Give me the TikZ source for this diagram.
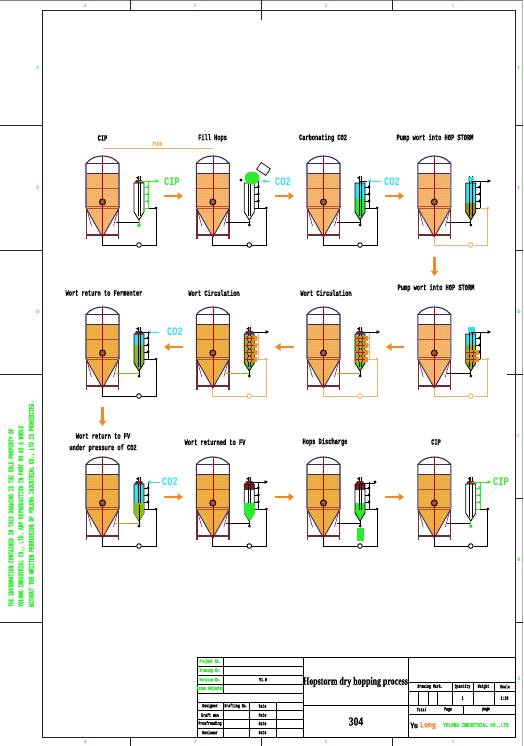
\documentclass[tikz,border=0pt]{standalone}
\usepackage{fontspec}
\setmainfont{Liberation Serif}
\setmonofont{Liberation Mono}
\setsansfont{Liberation Sans}
\newfontfamily\hvmono[BoldFeatures={FakeBold=1.2}]{Liberation Mono}
\newfontfamily\hvserif[BoldFeatures={FakeBold=.8}]{Liberation Serif}
\newfontfamily\hvsans[BoldFeatures={FakeBold=1.2}]{Liberation Sans}
\usetikzlibrary{arrows.meta,patterns,shapes.geometric}
\definecolor{hopgreen}{HTML}{2BEB2B}
\definecolor{cocyan}{HTML}{33E0F0}
\definecolor{flowor}{HTML}{F08A24}
\definecolor{pipeor}{HTML}{EFB070}
\definecolor{wortA}{HTML}{F5B670}
\definecolor{wortB}{HTML}{EDAE44}
\definecolor{wortC}{HTML}{F3B25E}
\definecolor{dotcol}{HTML}{E59A3C}
\definecolor{olive}{HTML}{8DB81E}
\definecolor{brownol}{HTML}{A08C14}
\definecolor{wall}{HTML}{3A2A50}
\definecolor{leg}{HTML}{6E2A36}
\definecolor{band}{HTML}{B0503A}
\definecolor{capred}{HTML}{7A1E2A}
\definecolor{frameg}{HTML}{222222}
\newcommand{\labtxt}[1]{\scalebox{.65}[1]{\fontsize{8.2}{9}\selectfont\hvmono\bfseries #1}}
\newcommand{\smalltxt}[1]{\scalebox{.62}[1]{\fontsize{5.2}{5.5}\selectfont\hvmono\bfseries #1}}
\newcommand{\gastxt}[1]{\scalebox{.75}[1]{\fontsize{11.5}{12}\selectfont\ttfamily\bfseries #1}}
\newcommand{\sidetxt}[1]{\scalebox{.61}[1]{\fontsize{7.5}{8}\selectfont\hvmono\bfseries #1}}
\tikzset{
  x=1pt,y=-1pt,
  lab/.style={inner sep=0pt,text=black},
  gas/.style={inner sep=0pt},
  flowarrow/.style={draw=flowor,line width=2.6pt,-{Triangle[width=7.5pt,length=5.5pt]}},
  pipe/.style={line width=.9pt,draw=#1},
  pipe/.default=black,
  tinygreen/.style={inner sep=0pt,text=hopgreen},
  cell/.style={inner sep=0pt,text=black},
  grid/.style={line width=.7pt,draw=black},
  pumpnode/.style={circle,draw=#1,line width=.9pt,fill=white,minimum size=4.6pt,inner sep=0pt},
  gasarrow/.style={line width=.9pt,draw=#1,-{Triangle[width=3.5pt,length=3.5pt]}},
  marknum/.style={inner sep=0pt,text=hopgreen,font=\fontsize{5}{5}\selectfont\bfseries},
}
% id, cx, oy, wort colour, bottom pipe colour, cone pipe colour
\newcommand{\tankunit}[6]{%
\begin{scope}[shift={(#2,#3)}]
  \begin{scope}
    \clip (-16,17.5) -- (16,17.5) -- (16,52) -- (0,81) -- (-16,52) -- cycle;
    \fill[#4] (-17,17) rectangle (17,82);
    \fill[pattern=dots,pattern color=dotcol] (-17,17) rectangle (17,82);
    \draw[band,line width=.6pt] (-17,32) -- (17,32) (-17,50) -- (17,50);
  \end{scope}
  \draw[wall,line width=.9pt] (-16,17.5) -- (16,17.5);
  \draw[leg,line width=1.6pt] (-16,52) -- (-16,83) (16,52) -- (16,83);
  \draw[leg,line width=1.1pt] (-16,79) -- (16,79);
  \draw[leg,line width=.6pt] (-16,52) -- (-11,70) (16,52) -- (11,70);
  \draw[wall,line width=1.1pt] (-16.5,52) -- (-16.5,7.5) .. controls (-12,2) and (-6,0) .. (0,0) .. controls (6,0) and (12,2) .. (16.5,7.5) -- (16.5,52);
  \draw[wall,line width=.6pt] (-16.5,7.5) -- (16.5,7.5);
  \draw[wall,line width=.9pt] (-16.5,52) -- (0,81) -- (16.5,52);
  \draw[band,line width=.6pt] (-16.5,52) -- (16.5,52);
  \draw[red!70!black,line width=.5pt] (0,0) -- (0,81);
  \node[circle,draw=black,line width=.9pt,fill=band,minimum size=6pt,inner sep=0pt] (#1manhole) at (0,46) {};
  \coordinate (#1tip) at (0,81);
  \coordinate (#1low) at (0,89);
  \coordinate (#1lowr) at (53.5,89);
  \coordinate (#1sideb) at (53.5,52);
  \coordinate (#1side) at (46,52);
  \coordinate (#1cone) at (13,66);
  \coordinate (#1out) at (36.5,66);
  \node[pumpnode=#5] (#1pump) at (36.5,89) {};
  \draw[pipe=#6] (#1cone) -- (#1out);
  \draw[pipe=#5] (#1tip) -- (#1low) -- (#1pump) -- (#1lowr) -- (#1sideb) -- (#1side);
  \fill[#5] (#1sideb) circle (1.5pt);
\end{scope}}
% cx, oy, stub colour, fill code
\newcommand{\stormer}[4]{%
\begin{scope}[shift={(#1+36.5,#2)}]
  \begin{scope}
    \clip (-5,27) -- (5,27) -- (5,56) -- (0,64) -- (-5,56) -- cycle;
    \fill[white] (-6,26) rectangle (6,65);
    #4
  \end{scope}
  \draw[black,line width=.8pt] (-5,27) -- (5,27) -- (5,56) -- (0,64) -- (-5,56) -- cycle;
  \draw[black,line width=.35pt] (-1.3,20) -- (-1.3,60) (1.3,20) -- (1.3,60);
  \draw[#3,line width=.8pt] (5,31) -- (9.5,31) (5,38) -- (9.5,38) (5,45) -- (9.5,45) (5,52) -- (9.5,52) (9.5,25) -- (9.5,52);
  \foreach \yy in {31,38,45}{\fill[#3] (9,\yy) circle (1.6pt);}
  \draw[black,line width=.9pt] (0,64) -- (0,69);
  \fill[black] (0,69) circle (1.5pt);
\end{scope}}
\newcommand{\capdark}[2]{% cx, oy
\begin{scope}[shift={(#1+36.5,#2)}]
  \fill[capred] (-4.5,27) -- (-3,24) -- (3,24) -- (4.5,27) -- cycle;
  \fill[black] (-3,21.5) -- (0,20) -- (0,24) -- cycle;
\end{scope}}
\newcommand{\coilset}[3]{% cx, oy, list of levels
\begin{scope}[shift={(#1+36.5,#2)}]
  \foreach \yy in {#3}{
    \fill[flowor] (-4.5,\yy-2.5) rectangle (8,\yy+2.5);
    \draw[band!70!black,line width=.6pt] (-4.5,\yy) -- (5,\yy) (-2,\yy-2.5) -- (-2,\yy+2.5) (2,\yy-2.5) -- (2,\yy+2.5);
  }
\end{scope}}
\newcommand{\flow}[5]{\coordinate (#1a) at (#2,#3); \coordinate (#1b) at (#4,#5); \draw[flowarrow] (#1a) -- (#1b);}
\begin{document}
\begin{tikzpicture}
\useasboundingbox (0,0) rectangle (523,746);
\fill[white] (0,0) rectangle (523,746);
% frame
\draw[gray,line width=1pt] (0,.8) -- (523,.8);
\draw[gray!60,line width=.6pt] (522.5,0) -- (522.5,746);
\draw[frameg,line width=.9pt] (42,10) rectangle (515,737);
\draw[frameg,line width=.7pt] (130,0) -- (130,10) (261,0) -- (261,20) (392,0) -- (392,10)
  (130,737) -- (130,746) (261,737) -- (261,746) (392,737) -- (392,746)
  (0,125) -- (42,125) (0,250) -- (42,250) (0,622) -- (42,622)
  (515,125) -- (523,125) (515,250) -- (523,250) (507,374) -- (523,374) (515,498) -- (523,498) (515,622) -- (523,622);
\draw[frameg,line width=.9pt] (0,374) -- (42,374);
\foreach \xx/\lbl [count=\i] in {85/4,195/3,326/2,453/1}{
  \node[marknum] (topn\i) at (\xx,6) {\lbl};
  \node[marknum] (botn\i) at (\xx,742) {\lbl};
}
\foreach \yy/\lbl [count=\i] in {68/F,188/E,312/D}{
  \node[marknum] (leftl\i) at (38,\yy) {\lbl};
}
\foreach \yy/\lbl [count=\i] in {68/F,188/E,312/D,436/C,560/B,679/A}{
  \node[marknum] (rightl\i) at (519,\yy) {\lbl};
}
% side note
\node[inner sep=0pt,rotate=90,anchor=west,text=hopgreen] (noteA) at (11,607) {\sidetxt{THE INFORMATION CONTAINED IN THIS DRAWING IS THE SOLE PROPERTY OF}};
\node[inner sep=0pt,rotate=90,anchor=west,text=hopgreen] (noteB) at (21.5,607) {\sidetxt{YOLONG INDUSTRIAL CO., LTD. ANY REPRODUCTION IN PART OR AS A WHOLE}};
\node[inner sep=0pt,rotate=90,anchor=west,text=hopgreen] (noteC) at (32,607) {\sidetxt{WITHOUT THE WRITTEN PERMISSION OF YOLONG INDUSTRIAL CO., LTD IS PROHIBITED.}};

% units: row 1
\tankunit{a}{102.5}{156}{wortA}{black}{black}
\stormer{102.5}{156}{hopgreen}{}
\capdark{102.5}{156}
\tankunit{b}{212.8}{156}{wortA}{black}{black}
\stormer{212.8}{156}{black}{}
\tankunit{c}{323.5}{156}{wortA}{black}{black}
\stormer{323.5}{156}{black}{\fill[cocyan] (-6,26) rectangle (6,43); \fill[hopgreen] (-6,43) rectangle (6,65);}
\tankunit{d}{434.3}{156}{wortA}{pipeor}{black}
\stormer{434.3}{156}{black}{\fill[cocyan] (-6,26) rectangle (6,47); \fill[brownol] (-6,47) rectangle (6,65);}
% row 1 extras
\draw[pipe=hopgreen] (139,220) -- (139,225);
\fill[hopgreen] (139,225.5) circle (1.8pt);
\draw[gasarrow=hopgreen] (139,181) -- (159,181);
\coordinate (hopperc) at (263.5,169);
\node[draw=black,line width=.7pt,fill=white,rotate=-35,minimum width=11pt,minimum height=8pt,inner sep=0pt] (hopper) at (hopperc) {};
\node[ellipse,fill=hopgreen,inner sep=0pt,minimum width=15pt,minimum height=13pt] (blob) at (252,178) {};
\fill[black] (241,180) circle (1.6pt);
\draw[gasarrow=cocyan] (270,181) -- (262,181);
\draw[black,line width=.8pt] (360,181) -- (367,181);
\draw[gasarrow=cocyan] (381,181) -- (367,181);
\fill[black] (357,177.5) -- (360,176) -- (360,180) -- cycle;
\draw[gasarrow=black] (470.8,181) -- (491,181);
\fill[cocyan] (467.5,177) rectangle (474,181);

% row 2
\tankunit{e}{102.5}{307}{wortB}{black}{olive}
\stormer{102.5}{307}{black}{\fill[cocyan] (-6,26) rectangle (6,38); \fill[olive] (-6,38) rectangle (6,65);}
\capdark{102.5}{307}
\tankunit{f}{212.8}{307}{wortB}{pipeor}{olive}
\stormer{212.8}{307}{pipeor}{\fill[olive] (-6,26) rectangle (6,65); \fill[cocyan] (-6,26) rectangle (6,30); \fill[hopgreen!70!olive] (-6,56) rectangle (6,65);}
\coilset{212.8}{307}{31,38,45,52}
\tankunit{g}{323.5}{307}{wortC}{pipeor}{olive}
\stormer{323.5}{307}{pipeor}{\fill[olive] (-6,26) rectangle (6,65); \fill[cocyan] (-6,26) rectangle (6,30); \fill[hopgreen!70!olive] (-6,56) rectangle (6,65);}
\coilset{323.5}{307}{31,38,45,52}
\tankunit{h}{434.3}{307}{wortA}{pipeor}{black}
\stormer{434.3}{307}{black}{\fill[cocyan] (-6,26) rectangle (6,38); \fill[olive] (-6,38) rectangle (6,65);}
\coilset{434.3}{307}{45,52}
\fill[cocyan] (467.5,327) rectangle (474.5,332);
\draw[gasarrow=cocyan] (159,332) -- (147,332);
\draw[black,line width=.8pt] (139,332) -- (150,332);
\draw[gasarrow=black] (249.3,332) -- (269,332);
\draw[gasarrow=black] (360,332) -- (380,332);
\draw[gasarrow=black] (470.8,332) -- (491,332);
\capdark{212.8}{307}
\capdark{323.5}{307}

% row 3
\tankunit{i}{102.5}{457}{wortB}{black}{olive}
\stormer{102.5}{457}{black}{\fill[cocyan] (-6,26) rectangle (6,46); \fill[olive] (-6,46) rectangle (6,65);}
\fill[olive] (134,503) rectangle (144,513) ; \fill[olive] (133.5,513) -- (144.5,513) -- (139,521) -- cycle;
\draw[black,line width=.5pt] (139,505) -- (139,521);
\capdark{102.5}{457}
\draw[gasarrow=cocyan] (160,482) -- (147,482);
\tankunit{j}{212.8}{457}{wortB}{black}{black}
\stormer{212.8}{457}{black}{\fill[capred] (-6,26) rectangle (6,33); \fill[hopgreen] (-6,46) rectangle (6,65);}
\fill[hopgreen] (244,503) rectangle (255,513); \fill[hopgreen] (244,513) -- (255,513) -- (249.5,521) -- cycle;
\capdark{212.8}{457}
\draw[gasarrow=black] (249.3,482) -- (268,482);
\tankunit{k}{323.5}{457}{wortB}{black}{black}
\stormer{323.5}{457}{black}{\fill[capred] (-6,26) rectangle (6,33); \fill[hopgreen] (-6,46) rectangle (6,65);}
\fill[hopgreen] (355,510) -- (365,510) -- (360,520) -- cycle;
\capdark{323.5}{457}
\node[fill=hopgreen,minimum width=7.5pt,minimum height=13pt,inner sep=0pt] (kfilter) at (360.3,534.5) {};
\draw[black,line width=.8pt] (360,483) -- (375,483);
\fill[black] (375,482) circle (1.6pt);
\tankunit{l}{434.3}{457}{wortB}{black}{black}
\stormer{434.3}{457}{hopgreen}{}
\capdark{434.3}{457}
\fill[hopgreen] (470.8,526.5) circle (1.8pt);
\draw[pipe=hopgreen] (470.8,521) -- (470.8,526);
\draw[gasarrow=hopgreen] (470.8,482) -- (491,482);

% dimension
\draw[pipeor!90!flowor,line width=.6pt] (102.5,148) -- (212.8,148);
\node[lab,text=flowor] (dim) at (157,144.5) {\scalebox{.7}[1]{\fontsize{6}{6}\selectfont\ttfamily\bfseries 7500}};

% labels
\node[lab] (t1) at (102.5,138) {\labtxt{CIP}};
\node[lab] (t2) at (212.5,138) {\labtxt{Fill Hops}};
\node[lab] (t3) at (323,138) {\labtxt{Carbonating CO2}};
\node[lab] (t4) at (435,138) {\labtxt{Pump wort into HOP STORM}};
\node[lab] (t5) at (104,293) {\labtxt{Wort return to Fermenter}};
\node[lab] (t6) at (214,293) {\labtxt{Wort Circulation}};
\node[lab] (t7) at (326,293) {\labtxt{Wort Circulation}};
\node[lab] (t8) at (436,288) {\labtxt{Pump wort into HOP STORM}};
\node[lab] (t9) at (103,436) {\labtxt{Wort return to FV}};
\node[lab] (t9b) at (103,448) {\labtxt{under pressure of CO2}};
\node[lab] (t10) at (215,442) {\labtxt{Wort returned to FV}};
\node[lab] (t11) at (325,442) {\labtxt{Hops Discharge}};
\node[lab] (t12) at (436,442) {\labtxt{CIP}};

% gas labels
\node[gas,text=hopgreen] (g1) at (172,181.5) {\gastxt{CIP}};
\node[gas,text=cocyan] (g2) at (283,181.5) {\gastxt{CO2}};
\node[gas,text=cocyan] (g3) at (392,181.5) {\gastxt{CO2}};
\node[gas,text=cocyan] (g4) at (175,332) {\gastxt{CO2}};
\node[gas,text=cocyan] (g5) at (170,482) {\gastxt{CO2}};
\node[gas,text=hopgreen] (g6) at (501,482) {\gastxt{CIP}};

% flow arrows
\flow{fa}{164}{196}{183}{196}
\flow{fb}{275}{196}{294}{196}
\flow{fc}{385}{196}{404}{196}
\flow{fd}{434.5}{257}{434.5}{276}
\flow{fe}{404}{347}{386}{347}
\flow{ff}{294}{347}{275}{347}
\flow{fg}{183}{347}{164}{347}
\flow{fh}{102.5}{407}{102.5}{426}
\flow{fi}{164}{497}{183}{497}
\flow{fj}{275}{497}{294}{497}
\flow{fk}{385}{497}{404}{497}

% title block
\draw[grid,line width=.9pt] (197,657) rectangle (515,737);
\draw[grid,line width=.9pt] (303,657) -- (303,737) (408,657) -- (408,737);
\draw[grid] (197,666) -- (303,666) (197,675) -- (303,675) (197,684) -- (303,684) (197,693) -- (303,693)
  (197,702) -- (303,702) (197,710) -- (303,710) (197,719) -- (303,719) (197,728) -- (303,728)
  (223,657) -- (223,693) (223,702) -- (223,737) (249,702) -- (249,737) (276,702) -- (276,737);
\draw[grid] (303,705) -- (408,705);
\draw[grid] (408,682) -- (515,682) (408,691) -- (515,691) (408,705) -- (515,705) (408,714) -- (515,714)
  (452,682) -- (452,705) (473,682) -- (473,705) (494,682) -- (494,705)
  (418,691) -- (418,705) (428,691) -- (428,705) (437,691) -- (437,705)
  (463,705) -- (463,714);
\foreach \yy/\lbl [count=\i] in {661.5/Project No.,670.5/Drawing No.,679.5/Version No.,688.5/Issue Adjusted}{
  \node[tinygreen] (blk\i) at (210,\yy) {\smalltxt{\lbl}};
}
\node[cell] (ver) at (263,679.5) {\smalltxt{V1.0}};
\foreach \yy/\lbl [count=\i] in {706/Designer,715/Draft man,723.5/Proofreading,732.5/Reviewer}{
  \node[cell] (who\i) at (210,\yy) {\smalltxt{\lbl}};
  \node[cell] (dat\i) at (262.5,\yy) {\smalltxt{Date}};
}
\node[cell] (drn) at (236,706) {\smalltxt{Drafting No.}};
\node[cell] (ttl) at (355.5,682) {\scalebox{.72}[1]{\fontsize{11}{11}\selectfont\hvserif\bfseries Hopstorm dry hopping process}};
\node[cell] (num) at (356,721.5) {\scalebox{.8}[1]{\fontsize{12}{12}\selectfont\hvserif\bfseries 304}};
\node[cell] (m1) at (430,686.5) {\smalltxt{Drawing Mark.}};
\node[cell] (m2) at (462.5,686.5) {\smalltxt{Quantity}};
\node[cell] (m3) at (483.5,686.5) {\smalltxt{Weight}};
\node[cell] (m4) at (505,686.5) {\smalltxt{Scale}};
\node[cell] (m5) at (462.5,698) {\smalltxt{1}};
\node[cell] (m6) at (504.5,698) {\smalltxt{1:10}};
\node[cell] (m7) at (421.5,709.5) {\smalltxt{Total}};
\node[cell] (m8) at (448,709.5) {\smalltxt{Page}};
\node[cell] (m9) at (486,709.5) {\smalltxt{page}};
\node[cell,anchor=west] (lg1) at (410,725.5) {\scalebox{.8}[1]{\fontsize{8}{8}\selectfont\hvsans\bfseries Yo}};
\node[cell,anchor=west,text=flowor] (lg2) at (420,725.5) {\scalebox{.8}[1]{\fontsize{8}{8}\selectfont\hvsans\bfseries Long}};
\node[inner sep=0pt,anchor=west,text=hopgreen] (lg3) at (443,725.5) {\scalebox{.78}[1]{\fontsize{5.6}{6}\selectfont\hvmono\bfseries YOLONG INDUSTRIAL CO.,LTD}};
\end{tikzpicture}
\end{document}
